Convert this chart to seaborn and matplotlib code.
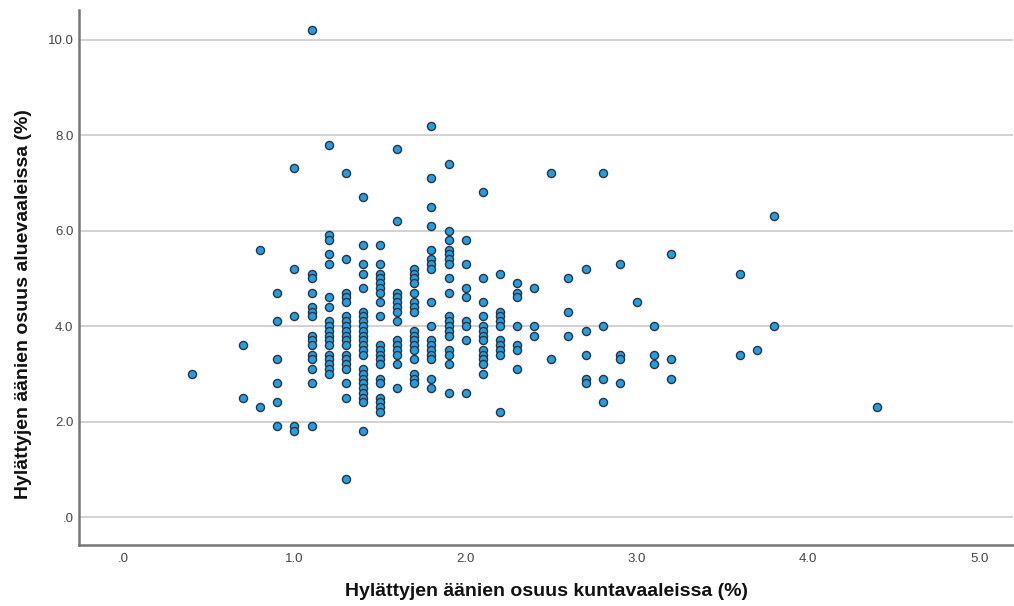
import matplotlib
matplotlib.use("Agg")
import matplotlib.pyplot as plt
from matplotlib.ticker import FuncFormatter
import pandas as pd
import seaborn as sns

# Hylättyjen äänien osuus kuntavaaleissa (%) -> arvot aluevaaleissa (%) kussakin sarakkeessa
kunta_cols = [0.4, 0.7, 0.8, 0.9, 1.0, 1.1, 1.2, 1.3, 1.4, 1.5, 1.6, 1.7, 1.8, 1.9,
              2.0, 2.1, 2.2, 2.3, 2.4, 2.5, 2.6, 2.7, 2.8, 2.9, 3.0, 3.1, 3.2,
              3.6, 3.7, 3.8, 4.4]
alue_by_col = [
    [3.0],
    [3.6, 2.5],
    [5.6, 2.3],
    [4.7, 4.1, 3.3, 2.8, 2.4, 1.9],
    [7.3, 5.2, 4.2, 1.9, 1.8],
    [10.2, 5.1, 5.0, 4.7, 4.4, 4.3, 4.2, 3.8, 3.7, 3.6, 3.4, 3.3, 3.1, 2.8, 1.9],
    [7.8, 5.9, 5.8, 5.5, 5.3, 4.6, 4.4, 4.1, 4.0, 3.9, 3.8, 3.7, 3.6, 3.4, 3.3, 3.2, 3.1, 3.0],
    [7.2, 5.4, 4.7, 4.6, 4.5, 4.2, 4.1, 4.0, 3.9, 3.8, 3.7, 3.6, 3.4, 3.3, 3.2, 3.1, 2.8, 2.5, 0.8],
    [6.7, 5.7, 5.3, 5.1, 4.8, 4.3, 4.2, 4.1, 4.0, 3.9, 3.8, 3.7, 3.6, 3.5, 3.4, 3.1, 3.0,
     2.9, 2.8, 2.7, 2.6, 2.5, 2.4, 1.8],
    [5.7, 5.3, 5.1, 5.0, 4.9, 4.8, 4.7, 4.5, 4.2, 3.6, 3.5, 3.4, 3.3, 3.2, 2.9, 2.8, 2.5, 2.4, 2.3, 2.2],
    [7.7, 6.2, 4.7, 4.6, 4.5, 4.4, 4.3, 4.1, 3.7, 3.6, 3.5, 3.4, 3.2, 2.7],
    [5.2, 5.1, 5.0, 4.9, 4.7, 4.5, 4.4, 4.3, 3.9, 3.8, 3.7, 3.6, 3.5, 3.3, 3.0, 2.9, 2.8],
    [8.2, 7.1, 6.5, 6.1, 5.6, 5.4, 5.3, 5.2, 4.5, 4.0, 3.7, 3.6, 3.5, 3.4, 3.3, 2.9, 2.7],
    [7.4, 6.0, 5.8, 5.6, 5.5, 5.4, 5.3, 5.0, 4.7, 4.2, 4.1, 4.0, 3.9, 3.8, 3.5, 3.4, 3.2, 2.6],
    [5.8, 5.3, 4.8, 4.6, 4.1, 4.0, 3.7, 2.6],
    [6.8, 5.0, 4.5, 4.2, 4.0, 3.9, 3.8, 3.7, 3.5, 3.4, 3.3, 3.2, 3.0],
    [5.1, 4.3, 4.2, 4.1, 4.0, 3.7, 3.6, 3.5, 3.4, 2.2],
    [4.9, 4.7, 4.6, 4.0, 3.6, 3.5, 3.1],
    [4.8, 4.0, 3.8],
    [7.2, 3.3],
    [5.0, 4.3, 3.8],
    [5.2, 3.9, 3.4, 2.9, 2.8],
    [7.2, 4.0, 2.9, 2.4],
    [5.3, 3.4, 3.3, 2.8],
    [4.5],
    [4.0, 3.4, 3.2],
    [5.5, 3.3, 2.9],
    [5.1, 3.4],
    [3.5],
    [6.3, 4.0],
    [2.3],
]

x_ticks = [0, 1, 2, 3, 4, 5]
y_ticks = [0, 2, 4, 6, 8, 10]

rows = []
for xv, ys in zip(kunta_cols, alue_by_col):
    for yv in ys:
        rows.append({"kunta": xv, "alue": yv})
df = pd.DataFrame(rows)

sns.set_theme(style="white")
plt.rcParams["font.family"] = ["Liberation Sans", "DejaVu Sans"]

fig = plt.figure(figsize=(10.14, 6.06), dpi=100)
ax = fig.add_axes([0.078, 0.1007, 0.921, 0.8828])

# vaakasuorat apuviivat
for yv in y_ticks:
    ax.axhline(yv, color="#d2d2d2", lw=1.4, zorder=0)

sns.scatterplot(data=df, x="kunta", y="alue", ax=ax, s=34,
                color="#1fa0e6", edgecolor="#2a3440", linewidth=1.0, zorder=3)

ax.set_xlim(-0.257, 5.195)
ax.set_ylim(-0.586, 10.62)
ax.set_xticks(x_ticks)
ax.set_yticks(y_ticks)


def fmt(v, _pos):
    s = f"{v:.1f}"
    return s[1:] if s.startswith("0") else s


ax.xaxis.set_major_formatter(FuncFormatter(fmt))
ax.yaxis.set_major_formatter(FuncFormatter(fmt))
ax.tick_params(axis="both", length=0, labelsize=9.5, colors="#444444")
ax.tick_params(axis="x", pad=6)
ax.tick_params(axis="y", pad=4)

for side in ["top", "right"]:
    ax.spines[side].set_visible(False)
for side in ["left", "bottom"]:
    ax.spines[side].set_color("#777777")
    ax.spines[side].set_linewidth(1.8)

ax.set_xlabel("Hylättyjen äänien osuus kuntavaaleissa (%)", fontsize=14,
              fontweight="bold", color="#111111")
ax.set_ylabel("Hylättyjen äänien osuus aluevaaleissa (%)", fontsize=14,
              fontweight="bold", color="#111111")
ax.xaxis.set_label_coords(0.5, -0.071)
ax.yaxis.set_label_coords(-0.05, 0.45)

fig.savefig("out.png", dpi=100)
